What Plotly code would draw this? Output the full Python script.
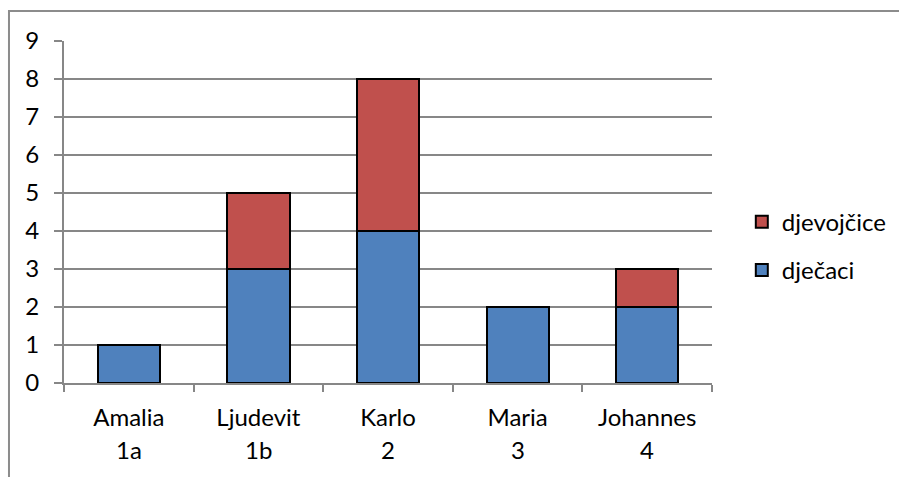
import plotly.graph_objects as go

names = ["Amalia", "Ljudevit", "Karlo", "Maria", "Johannes"]
classes = ["1a", "1b", "2", "3", "4"]
boys = [1, 3, 4, 2, 2]
girls = [0, 2, 4, 0, 1]

BLUE = "#4F81BD"
RED = "#C0504D"
GRID = "#878787"
FONT = "Lato"
FS = 24

fig = go.Figure()
fig.add_trace(go.Bar(x=names, y=boys, name="dječaci", marker=dict(color=BLUE, line=dict(color="black", width=2)),
                     legendgroup="b", legendrank=2))
fig.add_trace(go.Bar(x=names, y=girls, name="djevojčice", marker=dict(color=RED, line=dict(color="black", width=2)),
                     legendgroup="g", legendrank=1))

for n, c in zip(names, classes):
    fig.add_annotation(x=n, xref="x", y=-0.195, yref="paper", text=c, showarrow=False,
                       yanchor="middle", font=dict(family=FONT, size=FS, color="black"))

fig.add_shape(type="rect", xref="paper", yref="paper", x0=-0.0849, x1=1.6, y0=-0.6, y1=1.0877,
              line=dict(color="#8C8C8C", width=2), fillcolor="rgba(0,0,0,0)", layer="below")

fig.update_layout(
    width=899, height=477,
    margin=dict(l=64, r=187, t=41, b=94, autoexpand=False),
    barmode="stack", bargap=0.52,
    plot_bgcolor="white", paper_bgcolor="white",
    font=dict(family=FONT, size=FS, color="black"),
    legend=dict(x=1.046, y=0.40, xanchor="left", yanchor="middle", traceorder="grouped",
                tracegroupgap=14, font=dict(family=FONT, size=FS, color="black")),
    xaxis=dict(showline=True, linecolor=GRID, linewidth=2, ticks="outside", tickson="boundaries",
               ticklen=7, tickcolor=GRID, tickwidth=2, showgrid=False, ticklabelstandoff=12,
               automargin=False),
    yaxis=dict(range=[0, 9], dtick=1, showline=True, linecolor=GRID, linewidth=2, ticks="outside",
               ticklen=8, tickcolor=GRID, tickwidth=2, gridcolor=GRID, gridwidth=2, zeroline=False,
               ticklabelstandoff=10, automargin=False),
)

fig.write_html("out.html", config={"displayModeBar": False},
               post_script="document.body.style.margin='0';document.body.style.padding='0';")
